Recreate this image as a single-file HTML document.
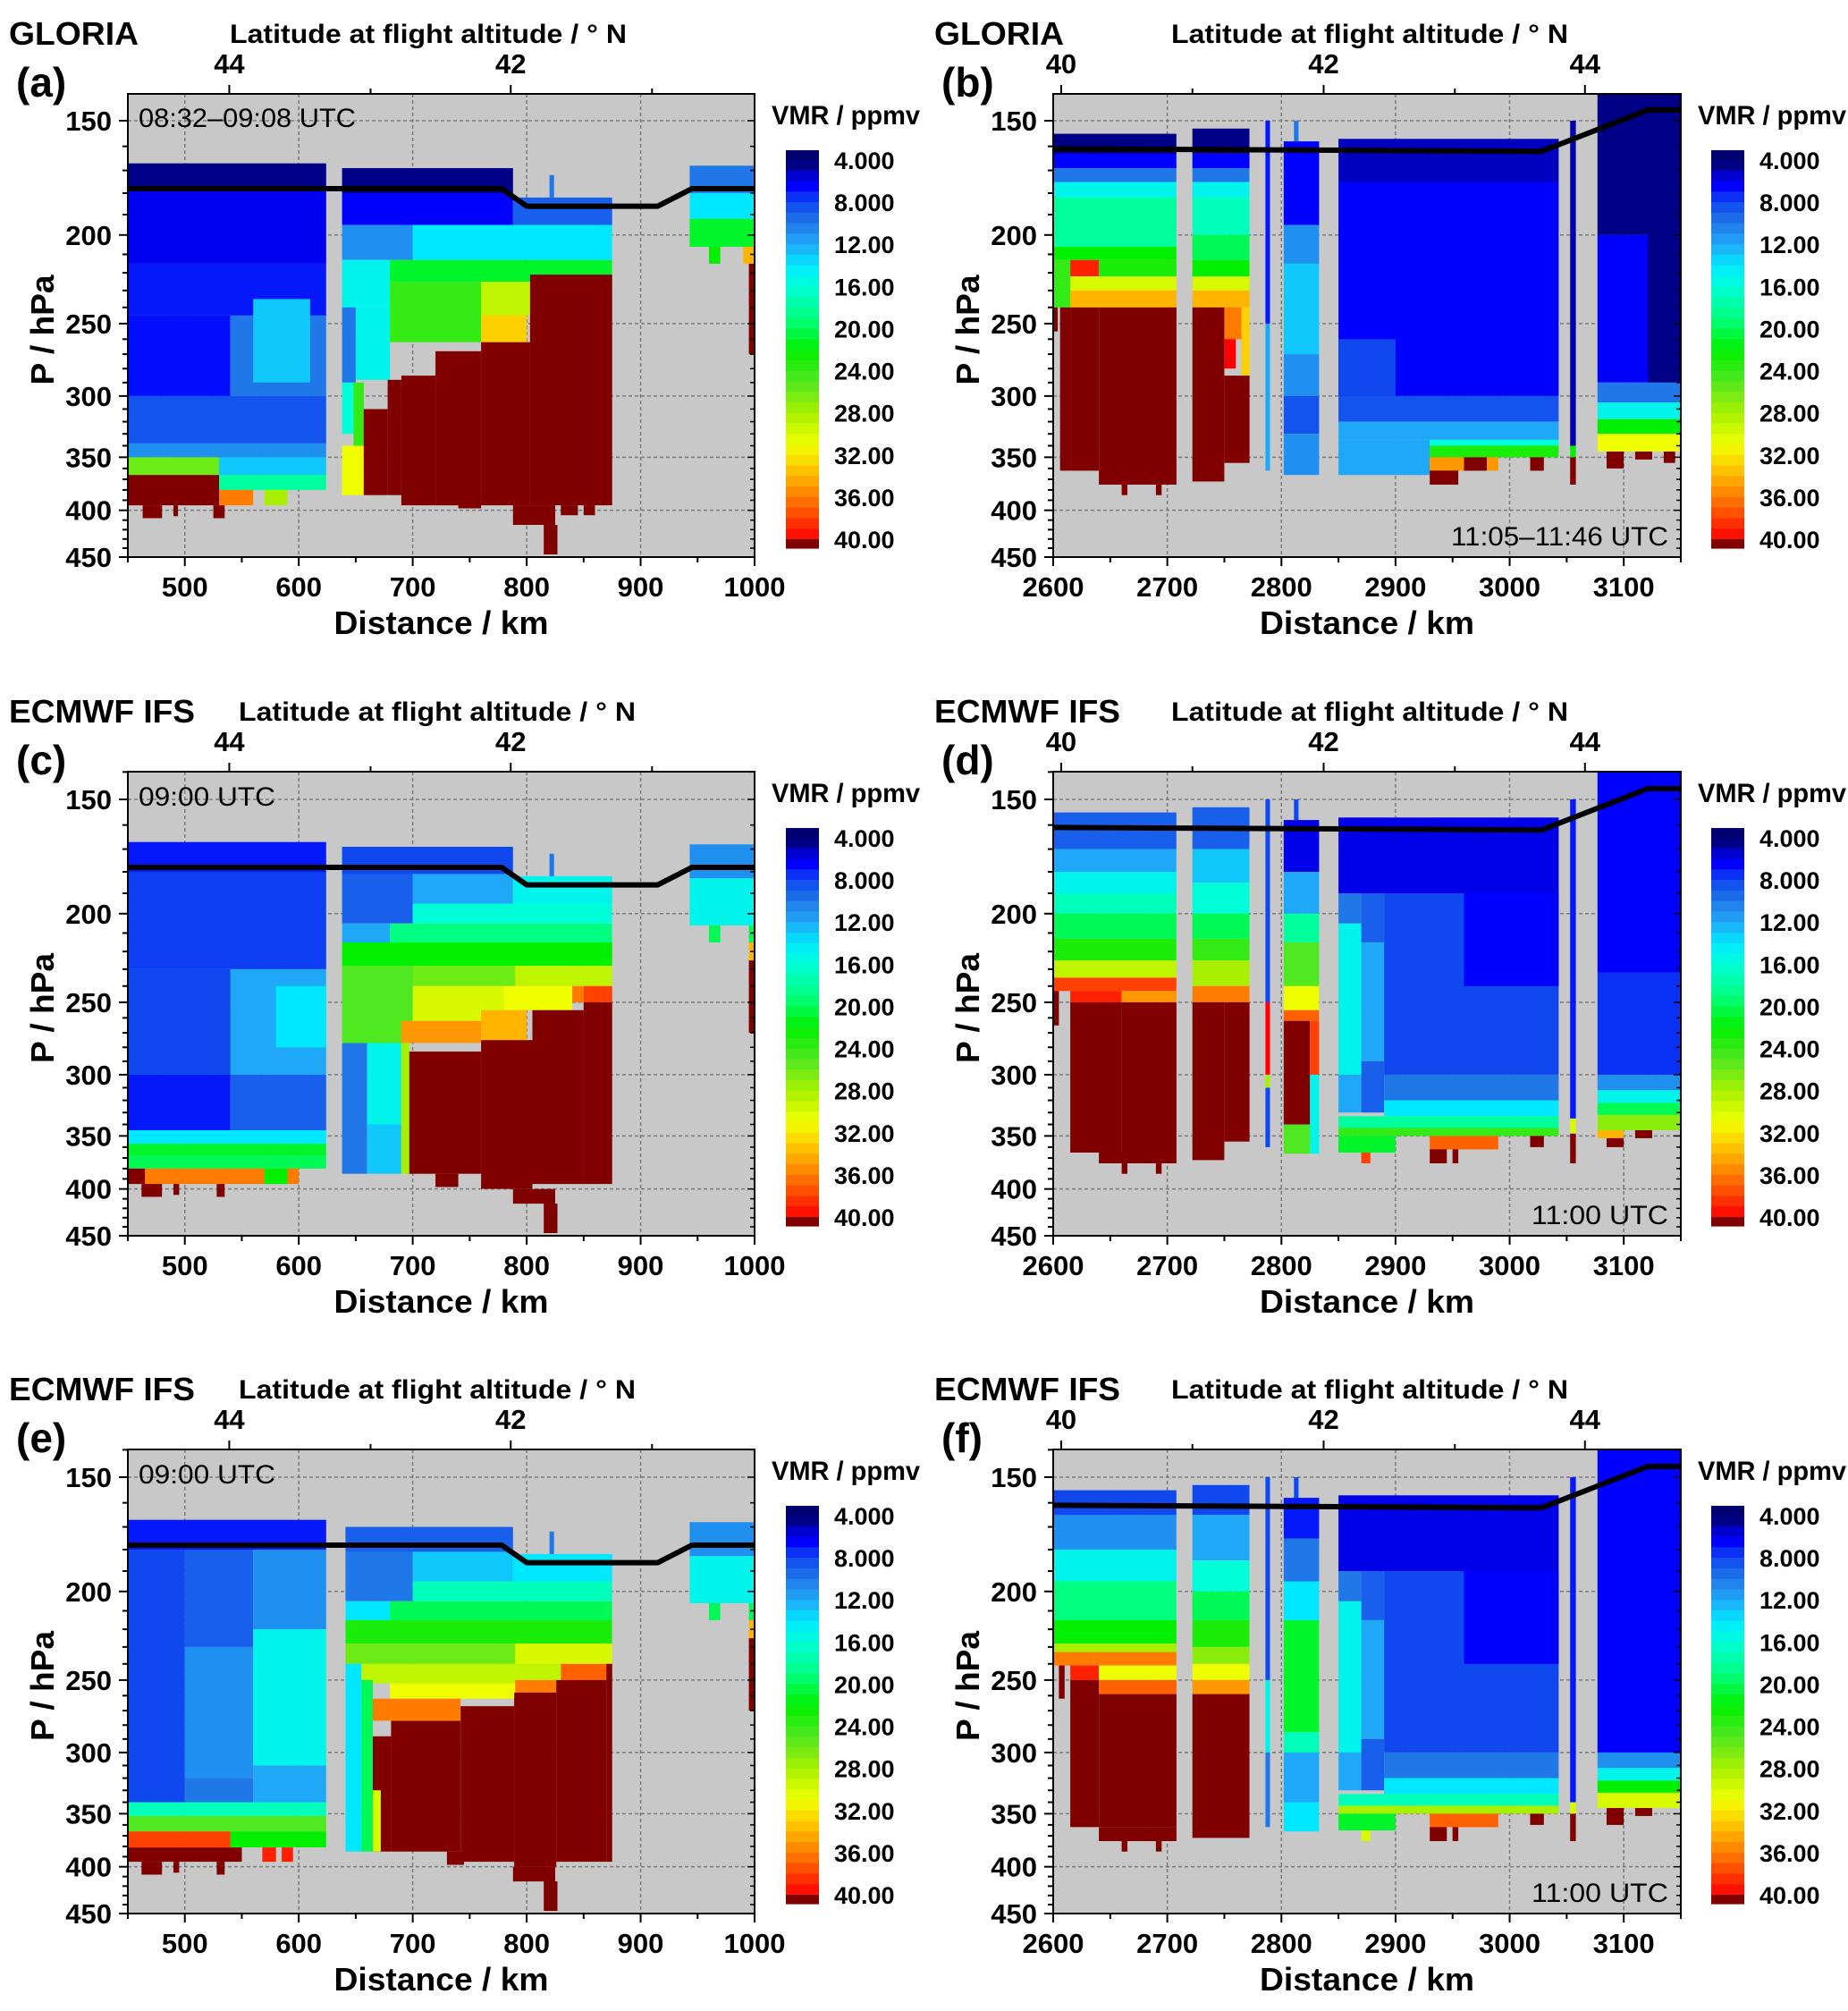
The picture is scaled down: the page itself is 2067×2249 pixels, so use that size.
<!DOCTYPE html>
<html><head><meta charset="utf-8">
<style>
html,body{margin:0;padding:0;background:#fff;}
svg{display:block;font-family:"Liberation Sans",Arial,sans-serif;}
</style></head>
<body>
<svg id="fig" xmlns="http://www.w3.org/2000/svg" width="2067" height="2249" viewBox="0 0 2067 2249">
<rect x="0" y="0" width="2067" height="2249" fill="#fff"/>
</svg>
<script>
// ---------- DATA ----------
const xTicksL = [500,600,700,800,900,1000];
const xTicksR = [2600,2700,2800,2900,3000,3100];
const yTicks = [150,200,250,300,350,400,450];
const latValsL = [44,43,42,41];
const latPosL = [539,663,786,910];
const latValsR = [40,41,42,43,44];
const latPosR = [2607,2722,2837,2952,3066];
const cbLabels = ["4.000","8.000","12.00","16.00","20.00","24.00","28.00","32.00","36.00","40.00"];
const cbValues = [4,8,12,16,20,24,28,32,36,40];

const lineL = [[450,178],[778,178],[800,186],[915,186],[945,178],[1000,178]];
const lineR = [[2600,161],[3028,162],[3121,146],[3150,146]];

const blocksA = [
[450,624,167,178,4.5],[450,624,178,215,6.2],[450,624,215,245,7],[450,540,245,300,6.8],[540,624,245,300,10],[560,610,235,290,13],
[450,624,300,338,8.5],[450,624,338,350,11],[450,530,350,366,26],[530,624,350,366,13],
[450,530,366,395,41],[530,624,366,380,18],[530,560,380,395,36],[570,590,380,395,28],
[463,480,395,408,41],[490,494,395,406,41],[525,535,395,408,41],
[638,788,169,180,4.5],[638,788,180,195,6.5],[788,875,182,195,9],[638,700,195,213,11],[700,875,195,213,14],
[638,680,213,240,15],[680,875,213,225,21],[680,760,225,262,24],[760,820,225,245,29],[820,875,225,232,28],[760,800,245,262,33],
[638,650,240,290,10],[650,680,240,288,15],[638,648,290,330,16],[648,657,290,340,24],[638,660,340,385,31],
[803,875,221,395,41],[760,803,262,395,41],[720,760,268,395,41],[690,720,285,395,41],[678,690,288,385,41],[657,678,310,385,41],
[788,825,395,415,41],[815,827,415,447,41],[830,845,395,405,41],[850,860,395,405,41],[740,760,385,398,41],
[820,824,172,182,10],
[943,1000,168,180,10],[943,1000,180,192,14],[943,1000,192,206,21],[960,970,206,215,22],[990,1000,206,215,34],[995,1000,215,270,41]
];
const blocksC = [
[450,624,167,180,7],[450,624,180,230,7.8],[540,624,230,300,12],[580,624,240,280,14],[450,540,230,300,8],[450,540,300,345,7],[540,624,300,345,9],
[450,624,345,357,14],[450,624,357,368,21],[450,624,368,380,20],[450,600,380,395,36],[450,465,380,395,41],
[462,480,395,408,41],[490,495,395,406,41],[528,535,395,408,41],[570,590,380,395,22],
[638,788,169,181,8],[638,700,181,205,9],[700,788,181,195,12],[788,875,182,195,15],[700,875,195,205,16],
[638,680,205,215,12],[680,875,205,215,19],[638,875,215,228,22],
[638,700,228,277,25],[700,790,228,240,26],[790,875,228,240,29],[850,875,240,250,38],
[700,780,240,262,30],[780,840,240,255,31],[840,850,240,250,36],[690,760,262,277,35],[760,800,255,275,34],
[850,875,250,395,41],[805,850,255,395,41],[760,805,275,400,41],[695,760,283,385,41],[720,740,385,398,41],
[788,825,400,415,41],[815,827,415,447,41],
[638,660,277,385,10],[660,690,277,340,15],[660,690,340,385,13],[690,697,277,385,28],
[820,824,172,182,10],
[943,1000,168,183,11],[943,1000,183,206,15],[960,970,206,215,20],[995,1000,206,215,20],[995,1000,215,225,34],[995,1000,225,270,41]
];
const blocksE = [
[450,624,167,180,7],[450,500,180,340,8],[500,560,180,230,9],[500,560,230,320,11],[560,624,180,220,11],[560,624,220,310,15],[560,624,310,340,12],[500,560,320,340,10],
[450,624,340,352,17],[450,624,352,366,25],[450,540,366,381,38],[540,624,366,381,22],[450,550,381,395,41],
[462,480,395,408,41],[490,495,395,406,41],[528,535,395,408,41],[568,580,381,395,39],[585,595,381,395,39],
[641,788,170,181,9],[641,700,181,205,10],[700,788,181,195,13],[788,875,182,195,14],[700,875,195,205,17],
[641,680,205,215,14],[680,875,205,215,20],[641,875,215,228,23],[641,790,228,240,26],[790,875,228,240,30],[830,875,240,250,37],
[655,830,240,252,29],[680,790,252,262,31],[790,826,250,258,36],[665,742,262,277,36],
[870,875,240,395,41],[826,870,250,395,41],[789,826,258,400,41],[742,789,267,395,41],[681,742,277,385,41],[665,681,288,385,41],
[788,825,400,415,41],[815,827,415,447,41],[730,745,385,398,41],
[641,655,240,385,14],[655,665,250,385,20],[665,672,330,385,30],
[820,824,172,182,10],
[943,1000,168,183,11],[943,1000,183,206,15],[960,970,206,215,20],[995,1000,206,215,20],[995,1000,215,225,34],[995,1000,225,270,41]
];
const blocksB = [
[2600,2708,155,163,4.5],[2600,2708,163,169,6.5],[2600,2708,169,175,10],[2600,2708,175,182,15],[2600,2708,182,206,18],[2600,2708,206,213,22],
[2600,2615,213,240,24],[2615,2640,213,222,39],[2640,2708,213,222,23],[2615,2708,222,230,30],[2615,2708,230,240,34],
[2606,2615,240,362,41],[2615,2640,240,362,41],[2640,2708,240,375,41],[2660,2665,375,385,41],[2690,2695,375,385,41],[2600,2604,240,255,41],
[2722,2772,153,163,4.5],[2722,2772,163,169,6.5],[2722,2772,169,175,10],[2722,2772,175,182,15],[2722,2772,182,200,17],[2722,2772,200,213,20],
[2722,2772,213,222,22],[2722,2772,222,230,30],[2722,2772,230,240,34],[2722,2750,240,372,41],[2750,2765,240,260,36],[2750,2760,260,280,40],[2765,2772,240,285,33],[2750,2772,285,355,41],
[2786,2790,150,250,7],[2786,2790,250,362,12],
[2802,2833,158,195,6.5],[2802,2833,195,215,11],[2802,2833,215,270,13],[2802,2833,270,300,11],[2802,2833,300,330,8.5],[2802,2833,330,366,11],[2811,2815,150,158,10],
[2850,3043,157,175,5.3],[2850,3043,175,300,6.5],[2850,2900,260,300,8],[2850,3043,300,320,8.5],[2850,3043,320,335,12],[2850,2930,335,366,12],
[2930,3043,335,340,16],[2930,3043,340,350,23],[2930,2990,350,362,35],[2930,2955,362,375,41],[2960,2980,350,362,41],[3018,3030,350,362,41],
[3053,3058,150,340,5],[3053,3058,340,350,22],[3053,3058,350,375,41],
[3077,3121,140,200,4.5],[3121,3150,140,290,4.5],[3077,3121,200,290,6.5],[3077,3150,290,305,10],[3077,3150,305,318,15],[3077,3150,318,330,22],[3077,3150,330,345,31],[3085,3100,345,360,41],[3110,3125,345,352,41],[3135,3145,345,355,41]
];
const blocksD = [
[2600,2708,155,170,9],[2600,2708,170,180,12],[2600,2708,180,190,15],[2600,2708,190,200,17],[2600,2708,200,213,20],[2600,2708,213,225,23],[2600,2708,225,235,29],[2600,2708,235,243,38],
[2615,2660,243,250,39],[2660,2708,243,250,35],[2600,2605,243,265,41],[2615,2660,250,365,41],[2660,2708,250,365,41],[2640,2708,365,375,41],[2660,2665,375,385,41],[2690,2695,375,385,41],
[2722,2772,153,170,9],[2722,2772,170,185,13],[2722,2772,185,200,16],[2722,2772,200,213,20],[2722,2772,213,225,24],[2722,2772,225,240,28],[2722,2772,240,250,36],[2722,2750,250,372,41],[2750,2772,250,355,41],
[2786,2790,150,250,8],[2786,2790,250,300,40],[2786,2790,300,310,28],[2786,2790,310,360,8],
[2802,2833,158,180,6],[2802,2833,180,200,12],[2802,2833,200,215,18],[2802,2833,215,240,25],[2802,2833,240,255,31],[2802,2833,255,262,37],
[2802,2825,262,340,41],[2825,2833,262,300,38],[2825,2833,300,366,15],[2802,2825,340,366,25],[2811,2815,150,158,8],
[2850,3043,157,190,6],[2850,2870,190,205,10],[2850,2870,205,300,15],[2870,2890,190,215,9],[2870,2890,215,290,12],[2850,2870,300,330,12],[2870,2890,290,330,9],
[2890,3043,190,300,8],[2960,3043,190,240,6.5],[2890,3043,300,320,10],[2890,3043,320,333,14],[2850,3043,333,343,18],[2850,3043,343,350,24],
[2850,2900,350,365,21],[2930,2990,350,362,37],[2930,2945,362,375,41],[2950,2955,362,375,41],[2870,2878,365,375,38],[3018,3030,350,360,41],
[3053,3058,150,335,7],[3053,3058,335,348,30],[3053,3058,348,375,41],
[3077,3150,140,232,6.5],[3077,3150,232,300,7.5],[3077,3150,300,312,11],[3077,3150,312,322,15],[3077,3150,322,332,20],[3077,3150,332,345,27],[3077,3100,345,352,34],[3085,3100,352,360,41],[3110,3125,345,352,41]
];
const blocksF = [
[2600,2708,155,165,8],[2600,2708,165,180,11],[2600,2708,180,195,15],[2600,2708,195,215,19],[2600,2708,215,228,22],[2600,2708,228,233,28],[2600,2708,233,241,36],
[2615,2640,241,250,39],[2640,2708,241,250,31],[2640,2708,250,259,37],[2615,2640,250,362,41],[2640,2708,259,362,41],[2640,2708,362,375,41],[2605,2610,241,262,41],[2660,2665,375,385,41],[2690,2695,375,385,41],
[2722,2772,153,165,8],[2722,2772,165,185,12],[2722,2772,185,200,16],[2722,2772,200,215,20],[2722,2772,215,230,23],[2722,2772,230,240,27],[2722,2772,240,250,31],[2722,2772,250,259,35],[2722,2772,259,372,41],
[2786,2790,150,250,8],[2786,2790,250,300,15],[2786,2790,300,362,10],
[2802,2833,158,175,7],[2802,2833,175,195,10],[2802,2833,195,215,14],[2802,2833,215,285,21],[2802,2833,285,300,17],[2802,2833,300,340,12],[2802,2833,340,366,14],[2811,2815,150,158,8],
[2850,3043,157,190,6],[2850,2870,190,205,10],[2850,2870,205,300,15],[2870,2890,190,215,9],[2870,2890,215,290,12],[2850,2870,300,330,12],[2870,2890,290,330,9],
[2890,3043,190,300,8],[2960,3043,190,240,6.5],[2890,3043,300,320,10],[2890,3043,320,333,14],[2850,3043,333,343,17],[2850,3043,343,350,28],
[2850,2900,350,365,21],[2930,2990,350,362,37],[2930,2945,362,375,41],[2950,2955,362,375,41],[2870,2878,365,375,30],[3018,3030,350,360,41],
[3053,3058,150,340,7],[3053,3058,340,350,30],[3053,3058,350,375,41],
[3077,3150,140,300,6.5],[3077,3150,300,312,11],[3077,3150,312,322,15],[3077,3150,322,332,22],[3077,3150,332,345,30],[3085,3100,345,360,41],[3110,3125,345,352,41]
];

// ---------- LAYOUT ----------
const COLX = [[143,844],[1178,1880]];
const ROWY = [{top:105,y150:135,bot:623},{top:863,y150:894,bot:1382},{top:1621,y150:1652,bot:2140}];
const COLOFF = [0,1035];
const ROWOFF = [0,758,1516];

const panels = [
 {id:'a',col:0,row:0,dom:[450,1000],blocks:blocksA,line:lineL,title:'GLORIA',tag:'(a)',time:'08:32–09:08 UTC',timeTL:true,timeW:243},
 {id:'b',col:1,row:0,dom:[2600,3150],blocks:blocksB,line:lineR,title:'GLORIA',tag:'(b)',time:'11:05–11:46 UTC',timeTL:false,timeW:243},
 {id:'c',col:0,row:1,dom:[450,1000],blocks:blocksC,line:lineL,title:'ECMWF IFS',tag:'(c)',time:'09:00 UTC',timeTL:true,timeW:153},
 {id:'d',col:1,row:1,dom:[2600,3150],blocks:blocksD,line:lineR,title:'ECMWF IFS',tag:'(d)',time:'11:00 UTC',timeTL:false,timeW:153},
 {id:'e',col:0,row:2,dom:[450,1000],blocks:blocksE,line:lineL,title:'ECMWF IFS',tag:'(e)',time:'09:00 UTC',timeTL:true,timeW:153},
 {id:'f',col:1,row:2,dom:[2600,3150],blocks:blocksF,line:lineR,title:'ECMWF IFS',tag:'(f)',time:'11:00 UTC',timeTL:false,timeW:153}
];

const stops = [[3,'#000070'],[4.6,'#000088'],[5.5,'#0000d0'],[6.5,'#0000ff'],[8,'#1048f0'],[10,'#2078e8'],[12,'#20a8f8'],[14,'#00e8ff'],[16,'#00ffd8'],[19,'#00ff80'],[22,'#00f000'],[25,'#50e820'],[28,'#a8f000'],[31,'#f0ff00'],[33,'#ffd000'],[35,'#ff9800'],[37,'#ff6000'],[39,'#ff2000'],[40,'#ff0000']];
function hex(c){return [parseInt(c.substr(1,2),16),parseInt(c.substr(3,2),16),parseInt(c.substr(5,2),16)];}
function cmap(v){
  if(v>40) return '#800000';
  if(v<=stops[0][0]) return stops[0][1];
  for(let i=1;i<stops.length;i++){
    if(v<=stops[i][0]){
      const a=stops[i-1],b=stops[i],t=(v-a[0])/(b[0]-a[0]);
      const A=hex(a[1]),B=hex(b[1]);
      return 'rgb('+A.map((x,k)=>Math.round(x+(B[k]-x)*t)).join(',')+')';
    }
  }
  return '#ff0000';
}

const NS='http://www.w3.org/2000/svg';
const svg=document.getElementById('fig');
function mk(tag,attrs,parent){const e=document.createElementNS(NS,tag);for(const k in attrs)e.setAttribute(k,attrs[k]);(parent||svg).appendChild(e);return e;}
function txt(s,attrs,parent){const e=mk('text',attrs,parent);e.textContent=s;return e;}

panels.forEach(P=>{
  const [x0,x1]=COLX[P.col]; const R=ROWY[P.row];
  const ox=COLOFF[P.col], oy=ROWOFF[P.row];
  const xs=d=>x0+(d-P.dom[0])/(P.dom[1]-P.dom[0])*(x1-x0);
  const ys=p=>R.y150+Math.log(p/150)/Math.log(3)*(R.bot-R.y150);
  const g=mk('g',{});
  
  
  const clipId='clip'+P.id;
  const cp=mk('clipPath',{id:clipId},g);
  mk('rect',{x:x0,y:R.top,width:x1-x0,height:R.bot-R.top},cp);
  const bg=mk('rect',{x:x0,y:R.top,width:x1-x0,height:R.bot-R.top,fill:'#c8c8c8'},g);
  
  
  const xt=P.col===0?xTicksL:xTicksR;
  xt.forEach(t=>{const X=xs(t);if(X>x0+2&&X<x1-2){const l=mk('line',{x1:X,x2:X,y1:R.top,y2:R.bot,stroke:'#7a7a7a','stroke-width':1.5,'stroke-dasharray':'4,3'},g);}});
  yTicks.forEach(t=>{const Y=ys(t);if(Y<R.bot-2){const l=mk('line',{x1:x0,x2:x1,y1:Y,y2:Y,stroke:'#7a7a7a','stroke-width':1.5,'stroke-dasharray':'4,3'},g);}});
  const dg=mk('g',{'clip-path':'url(#'+clipId+')'},g);
  
  
  P.blocks.forEach(b=>{
    const X0=xs(b[0]),X1=xs(b[1]),Y0=ys(b[2]),Y1=ys(b[3]);
    const r=mk('rect',{x:X0.toFixed(1),y:Y0.toFixed(1),width:(X1-X0).toFixed(1),height:(Y1-Y0).toFixed(1),fill:cmap(b[4])},dg);
    
    
  });
  const pts=P.line.map(q=>xs(q[0]).toFixed(1)+','+ys(q[1]).toFixed(1)).join(' ');
  const fl=mk('polyline',{points:pts,fill:'none',stroke:'#000','stroke-width':6,'stroke-linejoin':'round'},dg);
  
  
  const fr=mk('rect',{x:x0,y:R.top,width:x1-x0,height:R.bot-R.top,fill:'none',stroke:'#000','stroke-width':2},g);
  
  
  for(let d=P.dom[0];d<=P.dom[1];d+=50){const X=xs(d);const major=d%100===0;mk('line',{x1:X,x2:X,y1:R.bot,y2:R.bot+(major?10:6),stroke:'#000','stroke-width':2},g);}
  xt.forEach(t=>{const e=txt(String(t),{x:xs(t),y:R.bot+44,'font-size':31,'font-weight':'bold','text-anchor':'middle'},g);});
  for(let p=140;p<=450;p+=10){const Y=ys(p);if(Y<R.top-0.5)continue;const major=p%50===0;mk('line',{x1:x0,x2:x0-(major?10:6),y1:Y,y2:Y,stroke:'#000','stroke-width':2},g);mk('line',{x1:x1,x2:x1-(major?8:5),y1:Y,y2:Y,stroke:'#000','stroke-width':1.5},g);}
  yTicks.forEach(t=>{const e=txt(String(t),{x:x0-18,y:ys(t)+11,'font-size':31,'font-weight':'bold','text-anchor':'end'},g);});
  const lv=P.col===0?latValsL:latValsR, lp=P.col===0?latPosL:latPosR;
  lp.forEach((d,i)=>{const X=xs(d);const major=lv[i]%2===0;mk('line',{x1:X,x2:X,y1:R.top,y2:R.top-(major?10:6),stroke:'#000','stroke-width':2},g);
    if(major){const e=txt(String(lv[i]),{x:X,y:R.top-23,'font-size':31,'font-weight':'bold','text-anchor':'middle'},g);}});
  let e;
  e=txt(P.title,{x:10+ox,y:50+oy,'font-size':36,'font-weight':'bold',textLength:P.title==='GLORIA'?145:208,lengthAdjust:'spacingAndGlyphs'},g);
  e=txt(P.tag,{x:18+ox,y:108+oy,'font-size':46,'font-weight':'bold'},g);
  e=txt('Latitude at flight altitude  / ° N',{x:257+ox+(P.col?18:(P.row?10:0)),y:48+oy,'font-size':30,'font-weight':'bold',textLength:444,lengthAdjust:'spacingAndGlyphs'},g);
  e=txt('Distance / km',{x:(x0+x1)/2,y:R.bot+86,'font-size':36,'font-weight':'bold','text-anchor':'middle',textLength:240,lengthAdjust:'spacingAndGlyphs'},g);
  const ymid=(R.top+R.bot)/2+5;
  e=txt('P / hPa',{x:0,y:0,'font-size':36,'font-weight':'bold','text-anchor':'middle',textLength:123,lengthAdjust:'spacingAndGlyphs',transform:'translate('+(60+ox)+','+ymid+') rotate(-90)'},g);
  if(P.timeTL){e=txt(P.time,{x:x0+12,y:R.y150+7,'font-size':30,textLength:P.timeW,lengthAdjust:'spacingAndGlyphs'},g);}
  else{e=txt(P.time,{x:x1-14-P.timeW,y:R.bot-13,'font-size':30,textLength:P.timeW,lengthAdjust:'spacingAndGlyphs'},g);}
  
  const cx0=P.col===0?879:1914, cw=37, cbTop=168+oy, cbBot=613+oy;
  const cg=mk('g',{},g);
  
  
  const vy=v=>179+oy+(v-4)*(603-179)/36;
  for(let v=3;v<41;v+=1){
    const Y0=Math.max(cbTop,vy(v)),Y1=Math.min(cbBot,vy(v+1));
    const c=v<4?'#000070':(v>=40?'#800000':cmap(v+0.5));
    const r=mk('rect',{x:cx0,y:Y0.toFixed(1),width:cw,height:(Y1-Y0+0.6).toFixed(1),fill:c},cg);
    
    
  }
  cbValues.forEach((v,i)=>{const t=txt(cbLabels[i],{x:cx0+54,y:vy(v)+10,'font-size':27,'font-weight':'bold'},cg);});
  e=txt('VMR / ppmv',{x:P.col===0?863:1899,y:139+oy,'font-size':30,'font-weight':'bold',textLength:166,lengthAdjust:'spacingAndGlyphs'},g);
});
</script>
</body></html>
